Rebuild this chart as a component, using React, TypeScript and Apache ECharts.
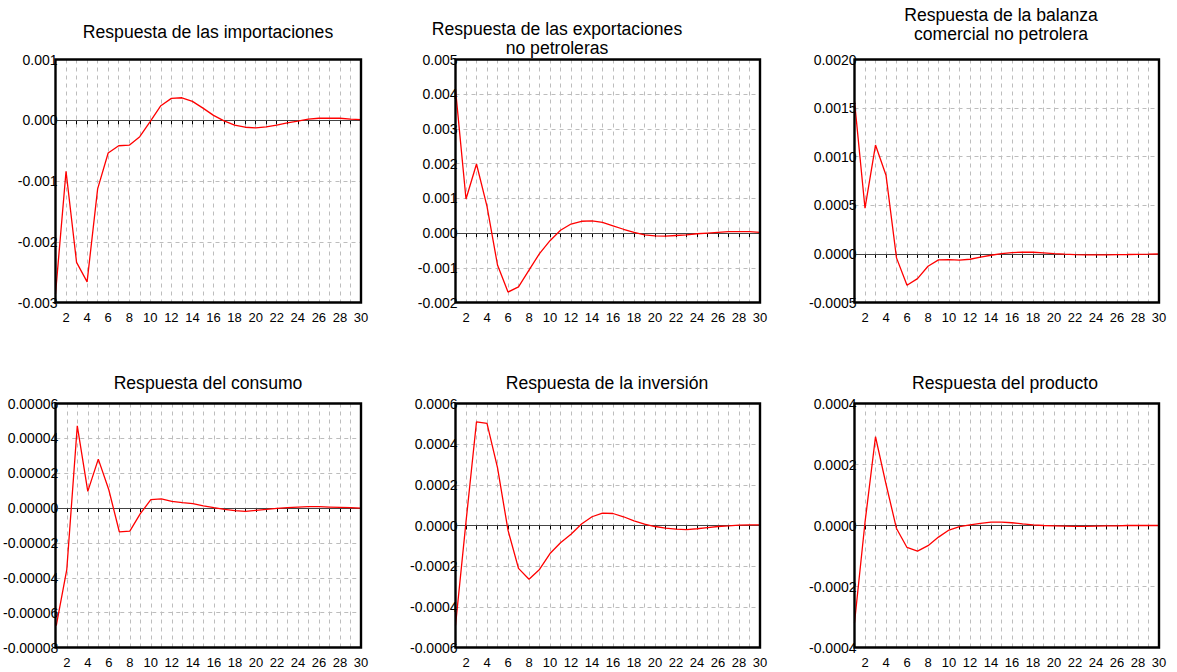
import { useEffect, useRef } from "react";
import * as echarts from "echarts";

// Horizon (periods after the shock)
const periods = [1, 2, 3, 4, 5, 6, 7, 8, 9, 10, 11, 12, 13, 14, 15, 16, 17, 18, 19, 20, 21, 22, 23, 24, 25, 26, 27, 28, 29, 30];

const titles = [
  "Respuesta de las importaciones",
  "Respuesta de las exportaciones\nno petroleras",
  "Respuesta de la balanza\ncomercial no petrolera",
  "Respuesta del consumo",
  "Respuesta de la inversión",
  "Respuesta del producto",
];

const importaciones = [
  -0.00286, -0.00084, -0.00234, -0.00266, -0.00113, -0.00054, -0.00042, -0.00041, -0.00027, -0.00002,
  0.00024, 0.00036, 0.00037, 0.00031, 0.0002, 0.00008, -0.00001, -0.00008, -0.000115, -0.000125,
  -0.00011, -0.00008, -0.000045, -0.000015, 0.00002, 0.000033, 0.000035, 0.000033, 0.00002, 0.00001,
];

const exportacionesNoPetroleras = [
  0.00414, 0.00098, 0.00199, 0.00077, -0.00092, -0.0017, -0.00155, -0.00107, -0.00059, -0.00022,
  0.00008, 0.00026, 0.00034, 0.00035, 0.00031, 0.00021, 0.00011, 0.00002, -0.00005, -0.00008,
  -0.00009, -0.00007, -0.00005, -0.00002, 0.0, 0.00002, 0.00004, 0.00004, 0.00004, 0.00002,
];

const balanzaNoPetrolera = [
  0.00157, 0.00047, 0.00112, 0.00081, -0.000041, -0.000323, -0.000254, -0.000127, -0.000062, -0.000058,
  -0.000065, -0.000055, -0.000034, -0.000014, 0.000003, 0.000014, 0.000017, 0.000017, 0.00001, 0.000003,
  -0.000003, -0.000007, -0.00001, -0.00001, -0.00001, -0.000007, -0.000006, -0.000004, -0.000003, -0.000001,
];

const consumo = [
  -0.0000674, -0.0000353, 0.0000472, 0.0000096, 0.0000281, 0.0000105, -0.0000136, -0.0000132, -0.0000032, 0.0000048,
  0.0000053, 0.0000038, 0.0000031, 0.0000025, 0.0000013, 0.0000002, -0.0000008, -0.0000015, -0.0000019, -0.0000013,
  -0.0000008, -0.0000002, 0.0000002, 0.0000006, 0.0000008, 0.0000008, 0.0000006, 0.0000004, 0.0000002, 0.0,
];

const inversion = [
  -0.000492, 0.000018, 0.00051, 0.000502, 0.000285, -0.000023, -0.000211, -0.000264, -0.000216, -0.000138,
  -0.000085, -0.000043, 0.000007, 0.000043, 0.000061, 0.000059, 0.000043, 0.000023, 0.000007, -0.000005,
  -0.000013, -0.000018, -0.00002, -0.000016, -0.00001, -0.000005, -0.000002, 0.000002, 0.000003, 0.000003,
];

const producto = [
  -0.000319, 0.00001, 0.000291, 0.000136, -0.00001, -0.000072, -0.000084, -0.000066, -0.000038, -0.000015,
  -0.000004, 0.000002, 0.000007, 0.000011, 0.000011, 0.000009, 0.000005, 0.000002, 0.0, -0.000001,
  -0.000002, -0.000003, -0.000003, -0.000002, -0.000001, -0.000001, 0.0, 0.0, 0.0, 0.0,
];

const responses = [importaciones, exportacionesNoPetroleras, balanzaNoPetrolera, consumo, inversion, producto];

// Value-axis ranges and tick formats, one per panel
const yMins = [-0.003, -0.002, -0.0005, -0.00008, -0.0006, -0.0004];
const yMaxs = [0.001, 0.005, 0.002, 0.00006, 0.0006, 0.0004];
const ySteps = [0.001, 0.001, 0.0005, 0.00002, 0.0002, 0.0002];
const yDecimals = [3, 3, 4, 5, 4, 4];

// Panel placement
const colLeft = [55.5, 455.5, 854.5];
const colRight = [361, 760, 1159];
const rowTop = [59.5, 403.5];
const rowBottom = [302.5, 647.5];
const titleX = [208, 557, 1001, 208, 607, 1005];
const titleY = [22.7, 19.3, 5.8, 373, 373, 373];

const FONT = "Arial, 'Liberation Sans', Helvetica, sans-serif";

function buildOption() {
  const grid: any[] = [];
  const xAxis: any[] = [];
  const yAxis: any[] = [];
  const series: any[] = [];
  const graphic: any[] = [];

  responses.forEach((values, i) => {
    const c = i % 3;
    const r = Math.floor(i / 3);
    const left = colLeft[c];
    const top = rowTop[r];
    const width = colRight[c] - colLeft[c];
    const height = rowBottom[r] - rowTop[r];
    grid.push({ left, top, width, height, show: false, containLabel: false });
    xAxis.push({
      type: "value",
      gridIndex: i,
      min: 1,
      max: 30,
      interval: 1,
      axisLine: { show: false },
      axisTick: { show: true, inside: false, length: 4, lineStyle: { color: "#000", width: 1 } },
      axisLabel: {
        show: true,
        margin: 8,
        fontSize: 13,
        fontFamily: FONT,
        color: "#000",
        showMinLabel: true,
        showMaxLabel: true,
        formatter: (v: number) => (Math.round(v) % 2 === 0 ? String(Math.round(v)) : ""),
      },
      splitLine: {
        show: true,
        showMinLine: false,
        showMaxLine: false,
        lineStyle: { color: "#bdbdbd", type: [4, 4], width: 1 },
      },
    });
    const step = ySteps[i];
    const dec = yDecimals[i];
    yAxis.push({
      type: "value",
      gridIndex: i,
      min: yMins[i],
      max: yMaxs[i],
      interval: step,
      axisLine: { show: false },
      axisTick: { show: false },
      axisLabel: {
        show: true,
        margin: -2,
        fontSize: 14,
        fontFamily: FONT,
        color: "#000",
        showMinLabel: true,
        showMaxLabel: true,
        formatter: (v: number) => (Math.abs(v) < step * 1e-6 ? 0 : v).toFixed(dec),
      },
      splitLine: {
        show: true,
        showMinLine: false,
        showMaxLine: false,
        lineStyle: { color: "#bdbdbd", type: [4, 4], width: 1 },
      },
    });
    series.push({
      type: "line",
      xAxisIndex: i,
      yAxisIndex: i,
      data: periods.map((p, k) => [p, values[k]]),
      showSymbol: false,
      symbol: "none",
      lineStyle: { color: "#ff0000", width: 1.3 },
      z: 3,
      markLine: {
        silent: true,
        symbol: "none",
        label: { show: false },
        lineStyle: { color: "#444", type: "solid", width: 1.2 },
        data: [{ yAxis: 0 }],
        z: 2,
      },
    });
    // Panel frame drawn above the gridlines
    graphic.push({
      type: "rect",
      shape: { x: left, y: top, width, height },
      style: { fill: "none", stroke: "#000", lineWidth: 2.4 },
      silent: true,
      z: 10,
    });
    graphic.push({
      type: "text",
      x: titleX[i],
      y: titleY[i],
      style: {
        text: titles[i],
        align: "center",
        verticalAlign: "top",
        fontSize: 17.6,
        fontFamily: FONT,
        lineHeight: 19,
        fill: "#000",
      },
    });
  });

  return {
    animation: false,
    backgroundColor: "#ffffff",
    grid,
    xAxis,
    yAxis,
    series,
    graphic,
  };
}

export default function App() {
  const ref = useRef<HTMLDivElement>(null);

  useEffect(() => {
    if (!ref.current) return;
    const chart = echarts.init(ref.current, undefined, { renderer: "svg" });
    chart.setOption(buildOption());
    return () => chart.dispose();
  }, []);

  return (
    <div
      ref={ref}
      style={{ position: "fixed", left: 0, top: 0, width: 1177, height: 672, background: "#fff" }}
    />
  );
}
